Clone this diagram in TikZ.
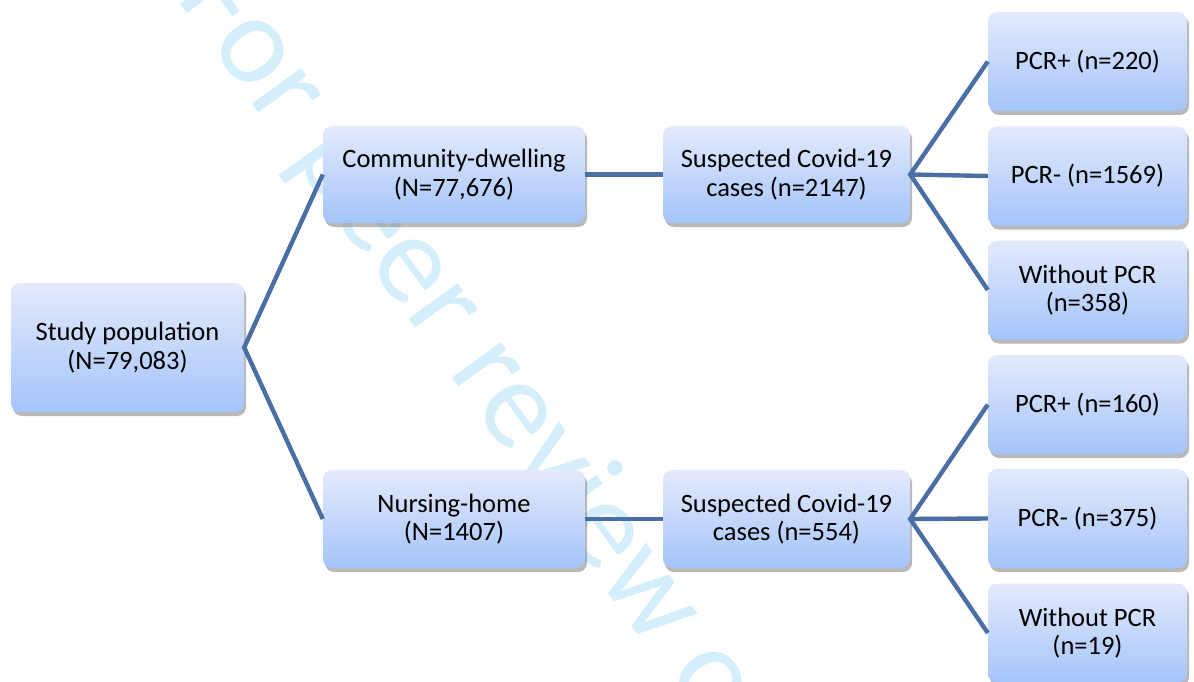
\documentclass[tikz,border=0pt]{standalone}
\usepackage{fontspec}
\setmainfont{Carlito}
\usetikzlibrary{shadows}
\definecolor{boxtop}{RGB}{228,234,252}
\definecolor{boxbot}{RGB}{164,196,250}
\definecolor{linkcol}{RGB}{74,111,165}
\definecolor{wmcol}{RGB}{212,239,251}
\tikzset{
  flowbox/.style={rounded corners=9pt, top color=boxtop, bottom color=boxbot,
    draw=none, align=center, inner sep=2pt, font=\fontsize{26.5}{28.5}\selectfont,
    drop shadow={shadow xshift=2pt, shadow yshift=-4pt, fill=black!50, opacity=.55}},
  link/.style={draw=linkcol, line width=4.4pt}
}
\begin{document}
\begin{tikzpicture}[x=1pt,y=-1pt]
\useasboundingbox (0,0) rectangle (1194,682);
\fill[white] (0,0) rectangle (1194,682);
\node[rotate=-54, anchor=base west, inner sep=0, text=wmcol,
  font=\fontsize{127}{127}\selectfont] (wm) at (175,-3) {For peer review only};
\node[flowbox, minimum width=233pt, minimum height=129pt] (study) at (127.5,347.5) {Study population\\(N=79,083)};
\node[flowbox, minimum width=262pt, minimum height=97pt] (comm) at (454,174.5) {Community-dwelling\\(N=77,676)};
\node[flowbox, minimum width=262pt, minimum height=98pt] (nurs) at (454,519) {Nursing-home\\(N=1407)};
\node[flowbox, minimum width=247pt, minimum height=97pt] (sus1) at (786.5,174.5) {Suspected Covid-19\\cases (n=2147)};
\node[flowbox, minimum width=247pt, minimum height=98pt] (sus2) at (786.5,519) {Suspected Covid-19\\cases (n=554)};
\node[flowbox, minimum width=199pt, minimum height=99pt] (p1) at (1087.5,61.5) {PCR+ (n=220)};
\node[flowbox, minimum width=199pt, minimum height=99pt] (p2) at (1087.5,176) {PCR- (n=1569)};
\node[flowbox, minimum width=199pt, minimum height=99pt] (p3) at (1087.5,290) {Without PCR\\(n=358)};
\node[flowbox, minimum width=199pt, minimum height=99pt] (q1) at (1087.5,404.5) {PCR+ (n=160)};
\node[flowbox, minimum width=199pt, minimum height=99pt] (q2) at (1087.5,518.5) {PCR- (n=375)};
\node[flowbox, minimum width=199pt, minimum height=99pt] (q3) at (1087.5,633) {Without PCR\\(n=19)};
\draw[link] (comm.west) -- (study.east) -- (nurs.west);
\draw[link] (comm.east) -- (sus1.west);
\draw[link] (nurs.east) -- (sus2.west);
\draw[link] (p1.west) -- (sus1.east) -- (p3.west);
\draw[link] (sus1.east) -- (p2.west);
\draw[link] (q1.west) -- (sus2.east) -- (q3.west);
\draw[link] (sus2.east) -- (q2.west);
\end{tikzpicture}
\end{document}
